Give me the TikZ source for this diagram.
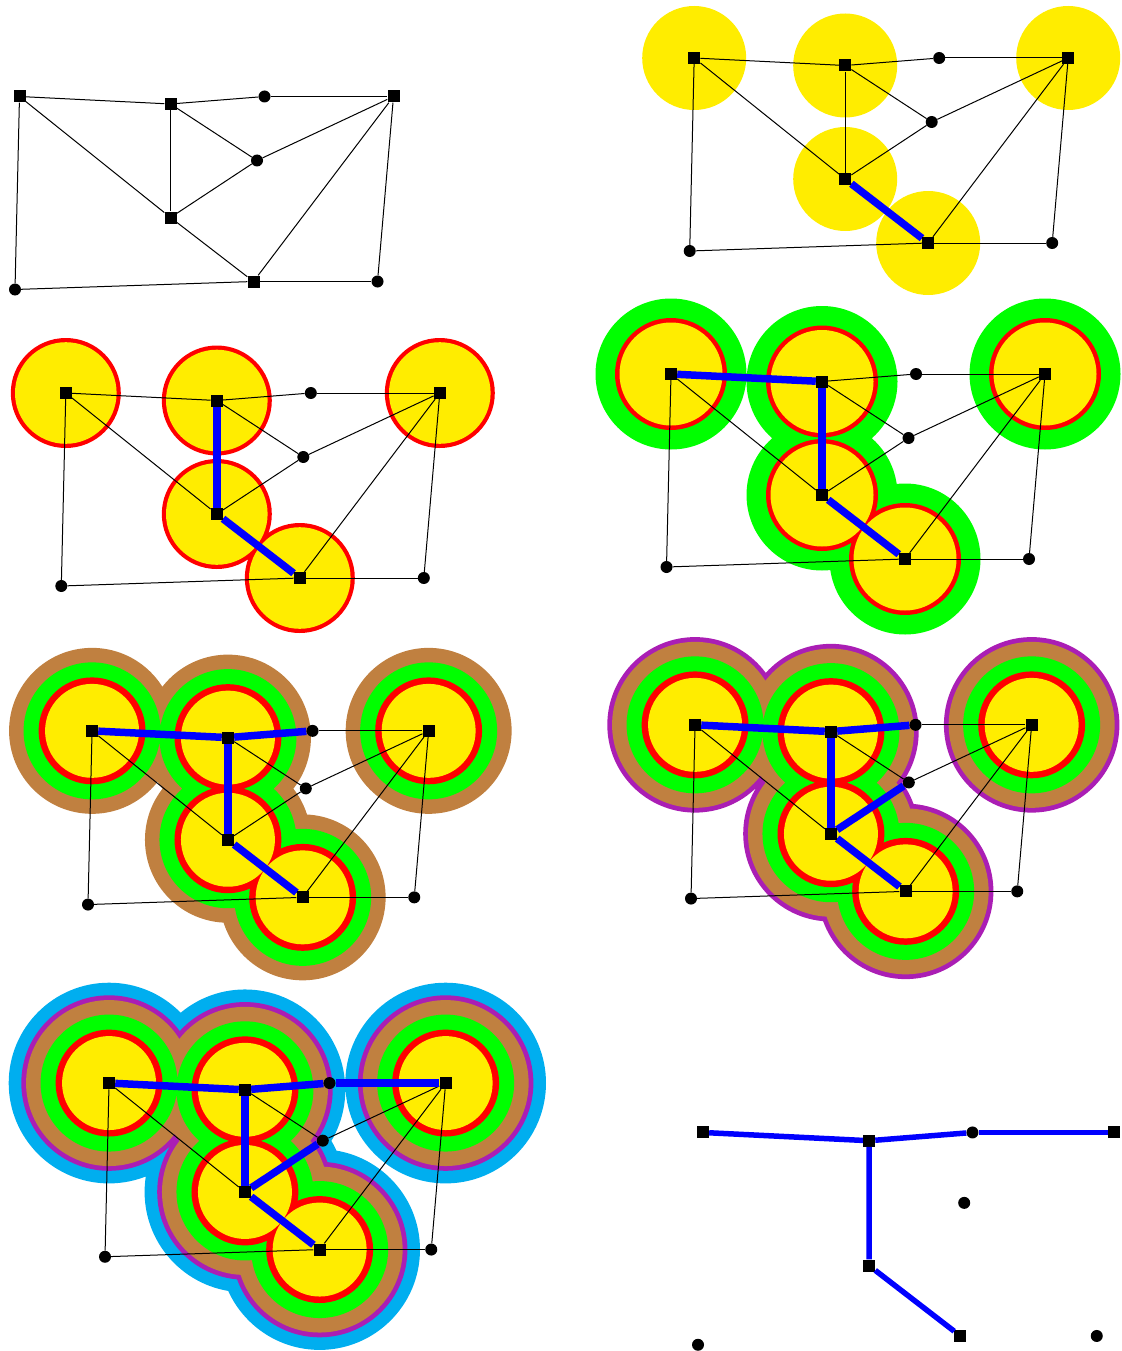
\documentclass[tikz,border=0pt]{standalone}
\usepackage{tikz}

\definecolor{moatyellow}{RGB}{255,237,0}
\definecolor{moatred}{RGB}{255,0,0}
\definecolor{moatgreen}{RGB}{0,255,0}
\definecolor{moatbrown}{RGB}{192,128,64}
\definecolor{moatpurple}{RGB}{170,30,180}
\definecolor{moatcyan}{RGB}{0,174,239}
\definecolor{treeblue}{RGB}{0,0,255}

\pgfdeclarelayer{moats}
\pgfdeclarelayer{edges}
\pgfsetlayers{moats,edges,main}

% the same graph in every panel, #1 = prefix of the node names
\newcommand{\graphnodes}[1]{%
  \node[terminal] (#1t1) at (19.5,96.5) {};
  \node[terminal] (#1t2) at (170.5,104) {};
  \node[vertex] (#1v1) at (264.5,96.5) {};
  \node[terminal] (#1t3) at (393.5,96.5) {};
  \node[vertex] (#1v2) at (257,160.5) {};
  \node[terminal] (#1t4) at (170.5,217.5) {};
  \node[vertex] (#1v3) at (15,289.5) {};
  \node[terminal] (#1t5) at (253.5,281.5) {};
  \node[vertex] (#1v4) at (377.5,281.5) {};
}
\newcommand{\graphedges}[1]{%
  \begin{pgfonlayer}{edges}
  \draw[graphedge] (#1t1) -- (#1t2);
  \draw[graphedge] (#1t2) -- (#1v1);
  \draw[graphedge] (#1v1) -- (#1t3);
  \draw[graphedge] (#1t1) -- (#1t4);
  \draw[graphedge] (#1t2) -- (#1t4);
  \draw[graphedge] (#1t2) -- (#1v2);
  \draw[graphedge] (#1v2) -- (#1t3);
  \draw[graphedge] (#1v2) -- (#1t4);
  \draw[graphedge] (#1t4) -- (#1t5);
  \draw[graphedge] (#1t5) -- (#1t3);
  \draw[graphedge] (#1t3) -- (#1v4);
  \draw[graphedge] (#1v4) -- (#1t5);
  \draw[graphedge] (#1t5) -- (#1v3);
  \draw[graphedge] (#1v3) -- (#1t1);
  \end{pgfonlayer}
}
% one disc of radius #2 and colour #3 round every terminal
\newcommand{\drawmoat}[3]{%
  \begin{pgfonlayer}{moats}
  \fill[#3] (#1t1) circle (#2) (#1t2) circle (#2) (#1t3) circle (#2)
            (#1t4) circle (#2) (#1t5) circle (#2);
  \end{pgfonlayer}
}

\begin{document}
\begin{tikzpicture}[x=1pt, y=-1pt,
        terminal/.style={rectangle, fill=black, minimum size=12pt, inner sep=0pt},
        vertex/.style={circle, fill=black, minimum size=12pt, inner sep=0pt},
        graphedge/.style={line width=1pt},
        treeedge/.style={treeblue, line width=7.5pt}
    ]
    \useasboundingbox (0,0) rectangle (1121,1351);

    % input graph
    \begin{scope}
        \graphnodes{a}
        \graphedges{a}
    \end{scope}

    % yellow moats
    \begin{scope}[shift={(674.7,-38.5)}]
        \graphnodes{b}
        \drawmoat{b}{52}{moatyellow}
        \graphedges{b}
        \begin{pgfonlayer}{edges}
        \draw[treeedge] (bt4) -- (bt5);
        \end{pgfonlayer}
    \end{scope}

    % red
    \begin{scope}[shift={(46.3,296.5)}]
        \graphnodes{c}
        \drawmoat{c}{55}{moatred}
        \drawmoat{c}{50.8}{moatyellow}
        \graphedges{c}
        \begin{pgfonlayer}{edges}
        \draw[treeedge] (ct2) -- (ct4);
        \draw[treeedge] (ct4) -- (ct5);
        \end{pgfonlayer}
    \end{scope}

    % green
    \begin{scope}[shift={(651.5,277.5)}]
        \graphnodes{d}
        \drawmoat{d}{75.5}{moatgreen}
        \drawmoat{d}{56}{moatred}
        \drawmoat{d}{51.5}{moatyellow}
        \graphedges{d}
        \begin{pgfonlayer}{edges}
        \draw[treeedge] (dt1) -- (dt2);
        \draw[treeedge] (dt2) -- (dt4);
        \draw[treeedge] (dt4) -- (dt5);
        \end{pgfonlayer}
    \end{scope}

    % brown
    \begin{scope}[shift={(74.5,644)}, scale=0.9]
        \graphnodes{e}
        \drawmoat{e}{92.2}{moatbrown}
        \drawmoat{e}{76.1}{moatgreen}
        \drawmoat{e}{59.4}{moatred}
        \drawmoat{e}{52.2}{moatyellow}
        \graphedges{e}
        \begin{pgfonlayer}{edges}
        \draw[treeedge] (et1) -- (et2);
        \draw[treeedge] (et2) -- (ev1);
        \draw[treeedge] (et2) -- (et4);
        \draw[treeedge] (et4) -- (et5);
        \end{pgfonlayer}
    \end{scope}

    % purple
    \begin{scope}[shift={(677.5,638)}, scale=0.9]
        \graphnodes{f}
        \drawmoat{f}{97.5}{moatpurple}
        \drawmoat{f}{92.2}{moatbrown}
        \drawmoat{f}{76.1}{moatgreen}
        \drawmoat{f}{59.4}{moatred}
        \drawmoat{f}{52.2}{moatyellow}
        \graphedges{f}
        \begin{pgfonlayer}{edges}
        \draw[treeedge] (ft1) -- (ft2);
        \draw[treeedge] (ft2) -- (fv1);
        \draw[treeedge] (ft2) -- (ft4);
        \draw[treeedge] (ft4) -- (fv2);
        \draw[treeedge] (ft4) -- (ft5);
        \end{pgfonlayer}
    \end{scope}

    % cyan
    \begin{scope}[shift={(91.5,996.2)}, scale=0.9]
        \graphnodes{g}
        \drawmoat{g}{111.5}{moatcyan}
        \drawmoat{g}{97.5}{moatpurple}
        \drawmoat{g}{92.2}{moatbrown}
        \drawmoat{g}{76.1}{moatgreen}
        \drawmoat{g}{59.4}{moatred}
        \drawmoat{g}{52.2}{moatyellow}
        \graphedges{g}
        \begin{pgfonlayer}{edges}
        \draw[treeedge] (gt1) -- (gt2);
        \draw[treeedge] (gt2) -- (gv1);
        \draw[treeedge] (gv1) -- (gt3);
        \draw[treeedge] (gt2) -- (gt4);
        \draw[treeedge] (gt4) -- (gv2);
        \draw[treeedge] (gt4) -- (gt5);
        \end{pgfonlayer}
    \end{scope}

    % resulting tree
    \begin{scope}[shift={(681.5,1026.3)}, scale=1.1, treeedge/.append style={line width=5.5pt}]
        \graphnodes{h}
        \draw[treeedge] (ht1) -- (ht2);
        \draw[treeedge] (ht2) -- (hv1);
        \draw[treeedge] (hv1) -- (ht3);
        \draw[treeedge] (ht2) -- (ht4);
        \draw[treeedge] (ht4) -- (ht5);
    \end{scope}
\end{tikzpicture}
\end{document}
